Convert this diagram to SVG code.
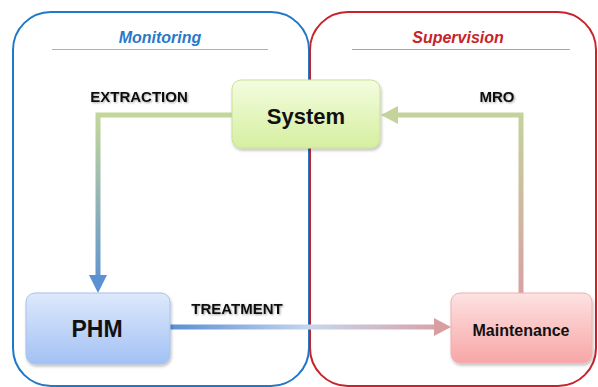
<svg xmlns="http://www.w3.org/2000/svg" width="598" height="387" viewBox="0 0 598 387">
<defs>
<linearGradient id="gSys" x1="0" y1="0" x2="0" y2="1"><stop offset="0" stop-color="#f4fcdf"/><stop offset="1" stop-color="#d5efa0"/></linearGradient>
<linearGradient id="gPhm" x1="0" y1="0" x2="0" y2="1"><stop offset="0" stop-color="#dde9fc"/><stop offset="1" stop-color="#a3c1f4"/></linearGradient>
<linearGradient id="gMnt" x1="0" y1="0" x2="0" y2="1"><stop offset="0" stop-color="#fde2e2"/><stop offset="1" stop-color="#f8a6a6"/></linearGradient>
<linearGradient id="gExt" gradientUnits="userSpaceOnUse" x1="0" y1="115" x2="0" y2="293"><stop offset="0" stop-color="#c4d79a"/><stop offset="1" stop-color="#5b90d2"/></linearGradient>
<linearGradient id="gTr" gradientUnits="userSpaceOnUse" x1="170" y1="0" x2="451" y2="0"><stop offset="0" stop-color="#5b8fd3"/><stop offset="0.5" stop-color="#c6d6ee"/><stop offset="1" stop-color="#d99ea2"/></linearGradient>
<linearGradient id="gMro" gradientUnits="userSpaceOnUse" x1="0" y1="293" x2="0" y2="115"><stop offset="0" stop-color="#d9a1a3"/><stop offset="1" stop-color="#c4d29c"/></linearGradient>
<filter id="sh" x="-10%" y="-10%" width="130%" height="140%"><feDropShadow dx="1" dy="2" stdDeviation="1.5" flood-color="#000" flood-opacity="0.25"/></filter>
<filter id="tsh" x="-10%" y="-30%" width="130%" height="180%"><feDropShadow dx="1" dy="1" stdDeviation="1" flood-color="#000" flood-opacity="0.35"/></filter>
</defs>
<style>
.cont{fill:none;stroke-width:2}
.title{font-family:"Liberation Sans",Arial,sans-serif;font-style:italic;font-weight:bold;font-size:16px;text-anchor:middle}
.lbl{font-family:"Liberation Sans",Arial,sans-serif;font-weight:bold;font-size:15px;fill:#111;text-anchor:middle}
.nt{font-family:"Liberation Sans",Arial,sans-serif;font-weight:bold;fill:#111;text-anchor:middle}
.conn{fill:none;stroke-width:5}
</style>
<g id="monitoring">
<rect class="cont" x="13" y="12" width="296" height="374" rx="38" stroke="#1f78c8"/>
<text class="title" x="160" y="43" fill="#2a78c8">Monitoring</text>
<line x1="52" y1="49.5" x2="268" y2="49.5" stroke="#8fb8e2" stroke-width="1"/>
</g>
<g id="supervision">
<rect class="cont" x="310" y="12" width="286" height="374" rx="38" stroke="#c8232a"/>
<text class="title" x="458" y="43" fill="#c8232a">Supervision</text>
<line x1="352" y1="49.5" x2="570" y2="49.5" stroke="#e48a8e" stroke-width="1"/>
</g>
<g id="connectors">
<polyline class="conn" points="232,115 98,115 98,277" stroke="url(#gExt)"/>
<polygon points="89,275 107,275 98,293" fill="#5b90d2"/>
<line class="conn" x1="170" y1="327" x2="436" y2="327" stroke="url(#gTr)"/>
<polygon points="434,318 451,327 434,336" fill="#d99ea2"/>
<polyline class="conn" points="521,293 521,115 396,115" stroke="url(#gMro)"/>
<polygon points="398,106 381,115 398,124" fill="#c4d29c"/>
<text class="lbl" x="139" y="101.5" filter="url(#tsh)">EXTRACTION</text>
<text class="lbl" x="237" y="313.5" filter="url(#tsh)">TREATMENT</text>
<text class="lbl" x="497" y="101.5" filter="url(#tsh)">MRO</text>
</g>
<g id="system">
<rect x="232" y="80" width="148" height="68" rx="9" fill="url(#gSys)" stroke="#c8e09a" stroke-width="1" filter="url(#sh)"/>
<text class="nt" x="306" y="124" font-size="22">System</text>
</g>
<g id="phm">
<rect x="26" y="293" width="144" height="71" rx="9" fill="url(#gPhm)" stroke="#a8c2ea" stroke-width="1" filter="url(#sh)"/>
<text class="nt" x="97" y="337" font-size="23">PHM</text>
</g>
<g id="maintenance">
<rect x="451" y="293" width="141" height="70" rx="9" fill="url(#gMnt)" stroke="#eeb0b0" stroke-width="1" filter="url(#sh)"/>
<text class="nt" x="521" y="336" font-size="16">Maintenance</text>
</g>
</svg>
